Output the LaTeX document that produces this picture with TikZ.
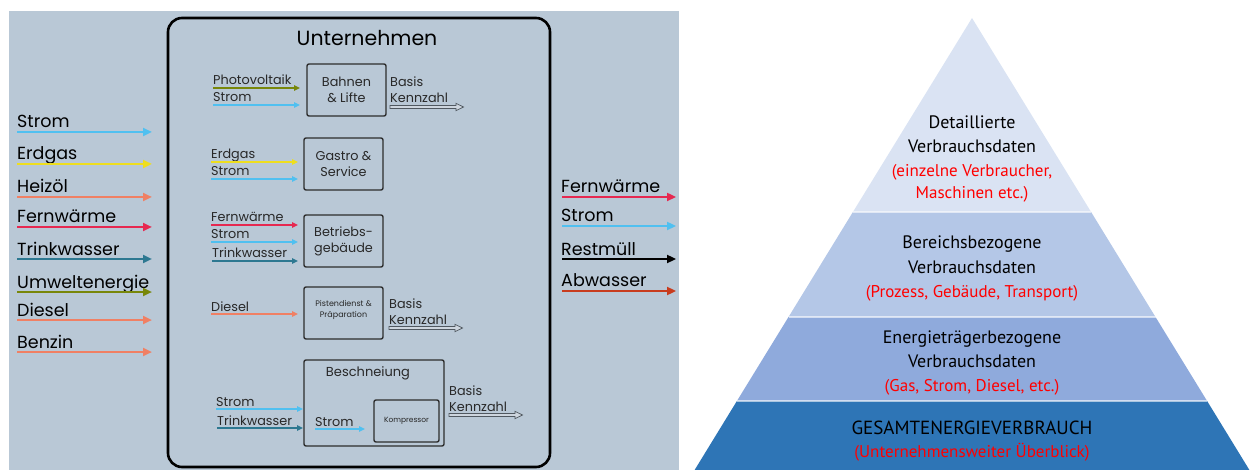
\documentclass[tikz,border=0pt]{standalone}
\usepackage{fontspec}
\setmainfont{Poppins}
\newfontfamily\pyrfont{PT Sans}
\usetikzlibrary{arrows.meta}
\definecolor{panel}{RGB}{185,200,214}
\definecolor{cStrom}{RGB}{80,192,240}
\definecolor{cErdgas}{RGB}{238,222,30}
\definecolor{cHeiz}{RGB}{240,128,100}
\definecolor{cFern}{RGB}{230,40,80}
\definecolor{cTrink}{RGB}{45,120,145}
\definecolor{cUmwelt}{RGB}{120,135,10}
\definecolor{cAbw}{RGB}{200,60,30}
\definecolor{txt}{RGB}{40,40,40}
\definecolor{boxline}{RGB}{45,45,45}
\definecolor{kzfill}{RGB}{205,213,222}
\definecolor{kzline}{RGB}{80,88,96}
\definecolor{pA}{RGB}{218,227,243}
\definecolor{pB}{RGB}{180,199,231}
\definecolor{pC}{RGB}{143,170,220}
\definecolor{pD}{RGB}{46,117,182}
\definecolor{pRed}{RGB}{255,0,0}
\begin{document}
\begin{tikzpicture}[x=1pt,y=-1pt,
  flow/.style={line width=2.6pt,-{Triangle[length=9pt,width=8pt]}},
  iflow/.style={line width=1.8pt,-{Triangle[length=6pt,width=5.5pt]}},
  lbl/.style={anchor=base west,inner sep=0pt,font=\fontsize{17.5}{17.5}\selectfont,text=black},
  ilbl/.style={anchor=base west,inner sep=0pt,font=\fontsize{12.8}{12.8}\selectfont,text=txt},
  unit/.style={draw=boxline,line width=1.4pt,rounded corners=2pt,inner sep=0pt,align=center,text=txt,font=\fontsize{12.8}{16}\selectfont},
  kz/.style={draw=kzline,fill=kzfill,line width=0.7pt},
  pyr/.style={anchor=base,inner sep=0pt,text=black,font=\pyrfont\fontsize{18}{18}\selectfont},
  pyrred/.style={anchor=base,inner sep=0pt,text=pRed,font=\pyrfont\fontsize{17}{17}\selectfont}
]
\useasboundingbox (0,0) rectangle (1252,470);
% ---------- left panel ----------
\fill[panel] (9,11) rectangle (679,470);
\draw[line width=2.6pt,rounded corners=14pt] (168,18) rectangle (550,467);
\node[inner sep=0pt,font=\fontsize{20.5}{20.5}\selectfont,text=black] (title) at (367,38) {Unternehmen};

% inputs
\foreach \t/\c/\y [count=\i] in {Strom/cStrom/132,Erdgas/cErdgas/164,Heizöl/cHeiz/197,Fernwärme/cFern/227,Trinkwasser/cTrink/259,Umweltenergie/cUmwelt/292,Diesel/cHeiz/320,Benzin/cHeiz/352}{
  \coordinate (in\i a) at (17,\y);
  \coordinate (in\i b) at (152,\y);
  \node[lbl] (inl\i) at (17,\y-4) {\t};
  \draw[flow,\c] (in\i a) -- (in\i b);
}
% outputs
\foreach \t/\c/\y [count=\i] in {Fernwärme/cFern/197,Strom/cStrom/226,Restmüll/black/259,Abwasser/cAbw/291}{
  \coordinate (out\i a) at (562,\y);
  \coordinate (out\i b) at (676,\y);
  \node[lbl] (outl\i) at (561,\y-4) {\t};
  \draw[flow,\c] (out\i a) -- (out\i b);
}

% units
\node[unit,minimum width=79pt,minimum height=52pt] (bahn) at (346.5,90) {Bahnen\\ \& Lifte};
\node[unit,minimum width=79pt,minimum height=52pt] (gastro) at (343.5,164) {Gastro \&\\ Service};
\node[unit,minimum width=79pt,minimum height=52pt] (betr) at (343.5,241) {Betriebs-\\ gebäude};
\node[unit,minimum width=79pt,minimum height=52pt] (piste) at (343.5,313) {};
\node[inner sep=0pt,align=center,text=txt,font=\fontsize{8}{10.5}\selectfont] (pistel) at (343.5,310) {Pistendienst \&\\ Präparation};
\node[draw=boxline,line width=1.4pt,rounded corners=2pt,minimum width=140pt,minimum height=86pt] (besch) at (374,403) {};
\node[inner sep=0pt,font=\fontsize{13}{13}\selectfont,text=txt] (beschl) at (368,373) {Beschneiung};
\node[unit,minimum width=65pt,minimum height=42pt,font=\fontsize{7.5}{7.5}\selectfont] (komp) at (406.5,421) {Kompressor};

% inner flows
\node[ilbl] (l1) at (213,85) {Photovoltaik};
\draw[iflow,cUmwelt] (213,88) -- (300,88);
\node[ilbl] (l2) at (213,102) {Strom};
\draw[iflow,cStrom] (213,105) -- (300,105);

\node[ilbl] (l3) at (211,159) {Erdgas};
\draw[iflow,cErdgas] (211,162) -- (298,162);
\node[ilbl] (l4) at (211,176) {Strom};
\draw[iflow,cStrom] (211,179) -- (298,179);

\node[ilbl] (l5) at (211,222) {Fernwärme};
\draw[iflow,cFern] (211,225) -- (298,225);
\node[ilbl] (l6) at (211,239) {Strom};
\draw[iflow,cStrom] (211,242) -- (298,242);
\node[ilbl] (l7) at (212,258) {Trinkwasser};
\draw[iflow,cTrink] (212,261) -- (298,261);

\node[ilbl] (l8) at (211,311) {Diesel};
\draw[iflow,cHeiz] (211,314) -- (298,314);

\node[ilbl] (l9) at (216,406) {Strom};
\draw[iflow,cStrom] (216,409) -- (303,409);
\node[ilbl] (l10) at (217,425) {Trinkwasser};
\draw[iflow,cTrink] (217,428) -- (303,428);
\node[ilbl] (l11) at (315,426) {Strom};
\draw[iflow,cStrom] (315,429) -- (365,429);

% Basis Kennzahl
\foreach \x/\y [count=\i] in {390/107,389/328,449/415}{
  \node[ilbl] (kb\i) at (\x,\y-20) {Basis};
  \node[ilbl] (kk\i) at (\x,\y-4) {Kennzahl};
  \draw[kz] (\x,\y) ++(0,-1.5) -- ++(66,0) -- ++(0,-2.2) -- ++(7.5,3.7) -- ++(-7.5,3.7) -- ++(0,-2.2) -- ++(-66,0) -- cycle;
}

% ---------- pyramid ----------
\fill[pA] (972,18) -- (1091.1,212) -- (852.9,212) -- cycle;
\fill[pB] (852.9,212) -- (1091.1,212) -- (1155.5,317) -- (788.5,317) -- cycle;
\fill[pC] (788.5,317) -- (1155.5,317) -- (1207.1,401) -- (736.9,401) -- cycle;
\fill[pD] (736.9,401) -- (1207.1,401) -- (1249.4,470) -- (694.6,470) -- cycle;
\draw[white,opacity=0.6,line width=1.3pt] (852.9,212) -- (1091.1,212);
\draw[white,opacity=0.6,line width=1.3pt] (788.5,317) -- (1155.5,317);
\draw[white,opacity=0.6,line width=1.3pt] (736.9,401) -- (1207.1,401);

\node[pyr] (t1a) at (972,129) {Detaillierte};
\node[pyr] (t1b) at (972,153) {Verbrauchsdaten};
\node[pyrred] (t1c) at (972,177) {(einzelne Verbraucher,};
\node[pyrred] (t1d) at (972,199) {Maschinen etc.)};
\node[pyr] (t2a) at (972,248) {Bereichsbezogene};
\node[pyr] (t2b) at (972,273) {Verbrauchsdaten};
\node[pyrred] (t2c) at (972,297) {(Prozess, Gebäude, Transport)};
\node[pyr] (t3a) at (972,343) {Energieträgerbezogene};
\node[pyr] (t3b) at (972,367) {Verbrauchsdaten};
\node[pyrred] (t3c) at (972,391) {(Gas, Strom, Diesel, etc.)};
\node[pyr,font=\pyrfont\fontsize{19}{19}\selectfont] (t4a) at (972,434) {GESAMTENERGIEVERBRAUCH};
\node[pyrred] (t4b) at (972,457) {(Unternehmensweiter Überblick)};
\end{tikzpicture}
\end{document}
